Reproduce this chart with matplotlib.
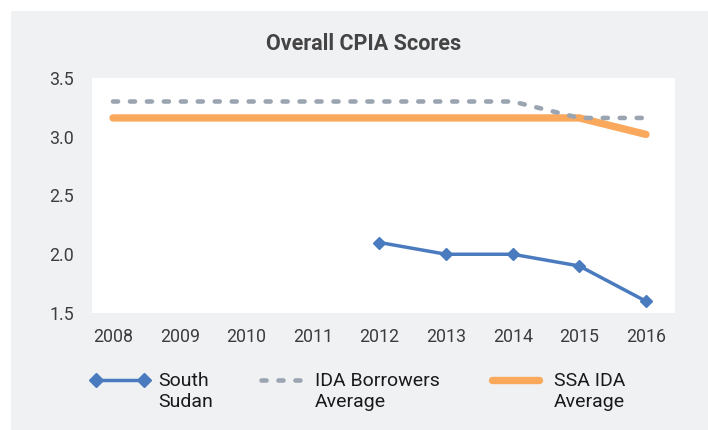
import matplotlib
matplotlib.use("Agg")
import matplotlib.pyplot as plt
from matplotlib.patches import Rectangle
from matplotlib.lines import Line2D

plt.rcParams['font.family'] = ['Roboto', 'DejaVu Sans']

years = [2008, 2009, 2010, 2011, 2012, 2013, 2014, 2015, 2016]
south_sudan_years = [2012, 2013, 2014, 2015, 2016]
south_sudan = [2.1, 2.0, 2.0, 1.9, 1.6]
ida_borrowers = [3.3, 3.3, 3.3, 3.3, 3.3, 3.3, 3.3, 3.16, 3.16]
ssa_ida = [3.16, 3.16, 3.16, 3.16, 3.16, 3.16, 3.16, 3.16, 3.02]
yticks = [1.5, 2.0, 2.5, 3.0, 3.5]
title = "Overall CPIA Scores"
labels = ["South\nSudan", "IDA Borrowers\nAverage", "SSA IDA\nAverage"]

W, H = 708, 430
fig = plt.figure(figsize=(W / 100, H / 100), dpi=100)
fig.patch.set_facecolor('white')
bg = '#f0f1f3'
fig.patches.append(Rectangle((11 / W, 0), 1 - 11 / W, 1 - 11 / H, transform=fig.transFigure,
                             facecolor=bg, edgecolor='none', zorder=-5))

ax = fig.add_axes([92 / W, 1 - 313 / H, (675 - 92) / W, (313 - 78) / H])
ax.set_zorder(2)
ax.set_facecolor('white')
for s in ax.spines.values():
    s.set_visible(False)

blue = '#4a7bbf'
grey = '#9ba5b2'
orange = '#f9a85c'
dash = (0, (1.1, 2.6))

ax.plot(years, ssa_ida, color=orange, lw=5.3, solid_capstyle='round', zorder=2)
ax.plot(years, ida_borrowers, color=grey, lw=3.3, ls=dash, dash_capstyle='round', zorder=3)
ax.plot(south_sudan_years, south_sudan, color=blue, lw=2.5, marker='D', ms=6.5, zorder=4)

ax.set_xlim(2008 - 21 / 66.6, 2016 + 29 / 66.6)
ax.set_ylim(1.5, 3.5)
ax.set_xticks(years)
ax.set_xticklabels([str(y) for y in years])
ax.set_yticks(yticks)
ax.set_yticklabels([f"{v:.1f}" for v in yticks])
ax.tick_params(length=0, labelsize=12.8, colors='#3d3d3d')
ax.tick_params(axis='x', pad=11)
ax.tick_params(axis='y', pad=13)

fig.text(364 / W, 1 - 44 / H, title, ha='center', va='center', fontsize=15.5,
         fontweight='bold', color='#444444')

# legend (handles aligned with the first text line, as in the reference)
def fx(px):
    return px / W

def fy(py):
    return 1 - py / H

ly = 380
styles = [
    dict(color=blue, lw=2.5, marker='D', ms=7, x=(96, 144)),
    dict(color=grey, lw=3.3, ls=dash, dash_capstyle='round', x=(261, 300)),
    dict(color=orange, lw=5.3, solid_capstyle='round', x=(492, 539)),
]
text_x = [158, 315, 554]
for st, lab, tx in zip(styles, labels, text_x):
    st = dict(st)
    x0, x1 = st.pop('x')
    fig.add_artist(Line2D([fx(x0), fx(x1)], [fy(ly), fy(ly)], transform=fig.transFigure, **st))
    fig.text(fx(tx), fy(372), lab, ha='left', va='top', fontsize=14, color='#1a1a1a',
             linespacing=1.2)

fig.savefig('out.png', dpi=100, facecolor=fig.get_facecolor())
